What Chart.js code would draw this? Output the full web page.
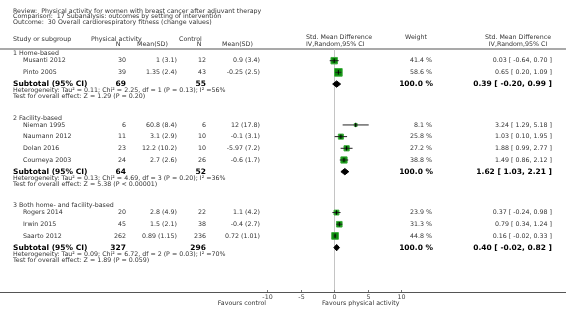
<!DOCTYPE html>
<html lang="en">
<head>
<meta charset="UTF-8">
<title>Forest plot - cardiorespiratory fitness</title>
<script src="https://cdn.jsdelivr.net/npm/chart.js"></script>
<style>
  body { margin: 0; background: #fff; }
  .wrap { position: relative; width: 566px; height: 321px; }
</style>
</head>
<body>
<div class="wrap"><canvas id="myChart"></canvas></div>
<script>
// study level data
const studies = ['Musanti 2012', 'Pinto 2005', 'Nieman 1995', 'Naumann 2012', 'Dolan 2016',
  'Courneya 2003', 'Rogers 2014', 'Irwin 2015', 'Saarto 2012'];
const paN = [30, 39, 6, 11, 23, 24, 20, 45, 262];
const paMean = ['1 (3.1)', '1.35 (2.4)', '60.8 (8.4)', '3.1 (2.9)', '12.2 (10.2)', '2.7 (2.6)',
  '2.8 (4.9)', '1.5 (2.1)', '0.89 (1.15)'];
const ctrlN = [12, 43, 6, 10, 10, 26, 22, 38, 236];
const ctrlMean = ['0.9 (3.4)', '-0.25 (2.5)', '12 (17.8)', '-0.1 (3.1)', '-5.97 (7.2)', '-0.6 (1.7)',
  '1.1 (4.2)', '-0.4 (2.7)', '0.72 (1.01)'];
const weight = [41.4, 58.6, 8.1, 25.8, 27.2, 38.8, 23.9, 31.3, 44.8];
const smd = [0.03, 0.65, 3.24, 1.03, 1.88, 1.49, 0.37, 0.79, 0.16];
const lo = [-0.64, 0.20, 1.29, 0.10, 0.99, 0.86, -0.24, 0.34, -0.02];
const hi = [0.70, 1.09, 5.18, 1.95, 2.77, 2.12, 0.98, 1.24, 0.33];

// subgroups
const groupNames = ['1 Home-based', '2 Facility-based', '3 Both home- and facility-based'];
const groupSize = [2, 4, 3];
const subPaN = [69, 64, 327];
const subCtrlN = [55, 52, 296];
const subSmd = [0.39, 1.62, 0.40];
const subLo = [-0.20, 1.03, -0.02];
const subHi = [0.99, 2.21, 0.82];
const hetText = [
  'Heterogeneity: Tau\u00b2 = 0.11; Chi\u00b2 = 2.25, df = 1 (P = 0.13); I\u00b2 =56%',
  'Heterogeneity: Tau\u00b2 = 0.13; Chi\u00b2 = 4.69, df = 3 (P = 0.20); I\u00b2 =36%',
  'Heterogeneity: Tau\u00b2 = 0.09; Chi\u00b2 = 6.72, df = 2 (P = 0.03); I\u00b2 =70%'
];
const testText = [
  'Test for overall effect: Z = 1.29 (P = 0.20)',
  'Test for overall effect: Z = 5.38 (P < 0.00001)',
  'Test for overall effect: Z = 1.89 (P = 0.059)'
];
const xTicks = [-10, -5, 0, 5, 10];

// row layout, in row units below the header line
const rows = [], subRows = [], labelRows = [];
let r = 0;
groupSize.forEach(n => {
  labelRows.push(r + 0.4);
  for (let i = 0; i < n; i++) rows.push(r + 1 + i);
  r += n + 1;
  subRows.push(r);
  r += 2.5;
});

const FONT = '"DejaVu Sans", sans-serif';
const fmt = v => v.toFixed(2);
const ciStr = (e, l, h) => fmt(e) + ' [ ' + fmt(l) + ', ' + fmt(h) + ' ]';

const datasets = [];
// little vertical tick at each estimate
datasets.push({
  data: smd.map((v, i) => ({ x: v, y: rows[i] })),
  pointStyle: 'line', rotation: 90, pointRadius: 2.2,
  borderColor: '#000', borderWidth: 1, backgroundColor: '#000'
});
// confidence intervals
smd.forEach((v, i) => {
  datasets.push({
    type: 'line',
    data: [{ x: lo[i], y: rows[i] }, { x: hi[i], y: rows[i] }],
    borderColor: '#222', borderWidth: 1, pointRadius: 0, fill: false
  });
});
// weight boxes
datasets.push({
  data: smd.map((v, i) => ({ x: v, y: rows[i] })),
  pointStyle: 'rect',
  pointRadius: weight.map(w => Math.sqrt(w) * 1.0 / Math.SQRT2),
  backgroundColor: '#0a8a0a', borderColor: '#3fae3f', borderWidth: 1
});
// subtotal diamonds
subSmd.forEach((v, g) => {
  const y = subRows[g];
  datasets.push({
    type: 'line',
    data: [{ x: subLo[g], y: y }, { x: v, y: y - 0.27 }, { x: subHi[g], y: y },
           { x: v, y: y + 0.27 }, { x: subLo[g], y: y }],
    borderColor: '#000', borderWidth: 1, backgroundColor: '#000',
    pointRadius: 0, fill: 'shape', tension: 0
  });
});

const forestText = {
  id: 'forestText',
  beforeDatasetsDraw(chart) {
    const ctx = chart.ctx, a = chart.chartArea, x = chart.scales.x;
    ctx.save();
    // header rule
    ctx.strokeStyle = '#8c8c8c';
    ctx.lineWidth = 1.5;
    ctx.beginPath(); ctx.moveTo(0, a.top); ctx.lineTo(chart.width, a.top); ctx.stroke();
    // zero line
    ctx.strokeStyle = '#c4c4c4';
    ctx.lineWidth = 1;
    const x0 = Math.round(x.getPixelForValue(0)) + 0.5;
    ctx.beginPath(); ctx.moveTo(x0, a.top); ctx.lineTo(x0, a.bottom); ctx.stroke();
    // axis
    ctx.strokeStyle = '#555';
    ctx.beginPath(); ctx.moveTo(0, a.bottom + 0.5); ctx.lineTo(chart.width, a.bottom + 0.5); ctx.stroke();
    ctx.strokeStyle = '#777';
    ctx.font = '6.3px ' + FONT;
    ctx.fillStyle = '#444';
    ctx.textAlign = 'center';
    ctx.textBaseline = 'middle';
    xTicks.forEach(t => {
      const px = Math.round(x.getPixelForValue(t)) + 0.5;
      ctx.beginPath(); ctx.moveTo(px, a.bottom - 2); ctx.lineTo(px, a.bottom); ctx.stroke();
      ctx.fillText(String(t), px, a.bottom + 5);
    });
    ctx.restore();
  },
  afterDraw(chart) {
    const ctx = chart.ctx, a = chart.chartArea, y = chart.scales.y;
    const txt = (s, px, py, align, font, color) => {
      ctx.font = font;
      ctx.fillStyle = color;
      ctx.textAlign = align;
      ctx.fillText(s, px, py);
    };
    const small = '6.3px ' + FONT, bold = 'bold 7.5px ' + FONT;
    const grey = '#333', black = '#000';
    ctx.save();
    ctx.textBaseline = 'middle';

    txt('Review:  Physical activity for women with breast cancer after adjuvant therapy', 13, 11, 'left', small, grey);
    txt('Comparison:  17 Subanalysis: outcomes by setting of intervention', 13, 16.5, 'left', small, grey);
    txt('Outcome:  30 Overall cardiorespiratory fitness (change values)', 13, 22, 'left', small, grey);

    txt('Study or subgroup', 13, 39, 'left', small, grey);
    txt('Physical activity', 91, 39, 'left', small, grey);
    txt('N', 118, 44, 'center', small, grey);
    txt('Mean(SD)', 137, 44, 'left', small, grey);
    txt('Control', 179, 39, 'left', small, grey);
    txt('N', 199, 44, 'center', small, grey);
    txt('Mean(SD)', 222, 44, 'left', small, grey);
    txt('Std. Mean Difference', 306, 37, 'left', small, grey);
    txt('IV,Random,95% CI', 306, 44, 'left', small, grey);
    txt('Weight', 416, 37, 'center', small, grey);
    txt('Std. Mean Difference', 518, 37, 'center', small, grey);
    txt('IV,Random,95% CI', 518, 44, 'center', small, grey);

    studies.forEach((s, i) => {
      const py = y.getPixelForValue(rows[i]);
      txt(s, 23, py, 'left', small, grey);
      txt(String(paN[i]), 126, py, 'right', small, grey);
      txt(paMean[i], 177, py, 'right', small, grey);
      txt(String(ctrlN[i]), 206, py, 'right', small, grey);
      txt(ctrlMean[i], 260, py, 'right', small, grey);
      txt(weight[i].toFixed(1) + ' %', 432, py, 'right', small, grey);
      txt(ciStr(smd[i], lo[i], hi[i]), 552, py, 'right', small, grey);
    });

    groupNames.forEach((g, k) => {
      txt(g, 13, y.getPixelForValue(labelRows[k]), 'left', small, grey);
      const py = y.getPixelForValue(subRows[k]);
      txt('Subtotal (95% CI)', 13, py, 'left', bold, black);
      txt(String(subPaN[k]), 126, py, 'right', bold, black);
      txt(String(subCtrlN[k]), 206, py, 'right', bold, black);
      txt('100.0 %', 433, py, 'right', bold, black);
      txt(ciStr(subSmd[k], subLo[k], subHi[k]), 552, py, 'right', bold, black);
      txt(hetText[k], 13, y.getPixelForValue(subRows[k] + 0.55), 'left', small, grey);
      txt(testText[k], 13, y.getPixelForValue(subRows[k] + 1.05), 'left', small, grey);
    });

    txt('Favours control', 266, a.bottom + 11, 'right', small, grey);
    txt('Favours physical activity', 322, a.bottom + 11, 'left', small, grey);
    ctx.restore();
  }
};

new Chart(document.getElementById('myChart'), {
  type: 'scatter',
  data: { datasets: datasets },
  options: {
    responsive: true,
    maintainAspectRatio: false,
    animation: false,
    layout: { padding: { left: 267, right: 165, top: 49, bottom: 29 } },
    plugins: { legend: { display: false }, tooltip: { enabled: false } },
    scales: {
      x: { type: 'linear', min: -10, max: 10, display: false },
      y: { type: 'linear', min: 0, max: 20.8, reverse: true, display: false }
    }
  },
  plugins: [forestText]
});
</script>
</body>
</html>
